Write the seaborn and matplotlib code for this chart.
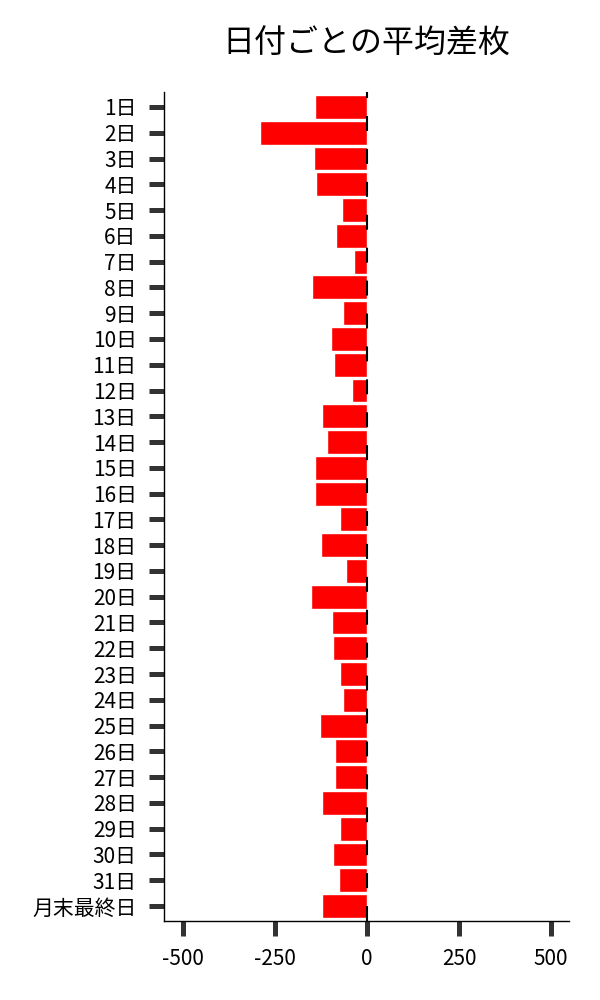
import matplotlib
matplotlib.use("Agg")
import matplotlib.pyplot as plt
import seaborn as sns
import pandas as pd

days = [f"{i}日" for i in range(1, 32)] + ["月末最終日"]
avg_diff = [-141, -290, -144, -138, -68, -84, -35, -149, -65, -98, -90, -41,
            -122, -108, -141, -141, -73, -125, -57, -152, -95, -92, -73, -65,
            -127, -87, -87, -122, -73, -92, -76, -122]
x_ticks = [-500, -250, 0, 250, 500]
title = "日付ごとの平均差枚"

sns.set_theme(style="white")
plt.rcParams['font.family'] = ['Noto Sans CJK JP', 'DejaVu Sans']

df = pd.DataFrame({"day": days, "diff": avg_diff})

fig = plt.figure(figsize=(6, 10), dpi=100)
ax = fig.add_axes([0.273, 0.079, 0.675, 0.829])

sns.barplot(data=df, x="diff", y="day", orient="h", color="#ff0000",
            saturation=1, width=0.93, errorbar=None, ax=ax)
ax.axvline(0.8, color="black", lw=1.5, linestyle=(0, (7.2, 8.6)), zorder=5)

ax.set_xlim(-551, 548)
ax.set_ylim(len(days) - 1 + 0.58, -0.58)
ax.set_xticks(x_ticks)
ax.set_xticklabels([str(v) for v in x_ticks])
ax.set_xlabel("")
ax.set_ylabel("")
ax.set_title(title, fontsize=23, pad=28, color="black")

for s in ["top", "right"]:
    ax.spines[s].set_visible(False)
for s in ["left", "bottom"]:
    ax.spines[s].set_color("black")
    ax.spines[s].set_linewidth(1.0)

ax.tick_params(axis="both", which="major", direction="out", length=11,
               width=3.6, color="#333333", labelsize=15, pad=8.5,
               left=True, bottom=True, labelcolor="black")

fig.savefig("out.png", dpi=100, facecolor="white")
